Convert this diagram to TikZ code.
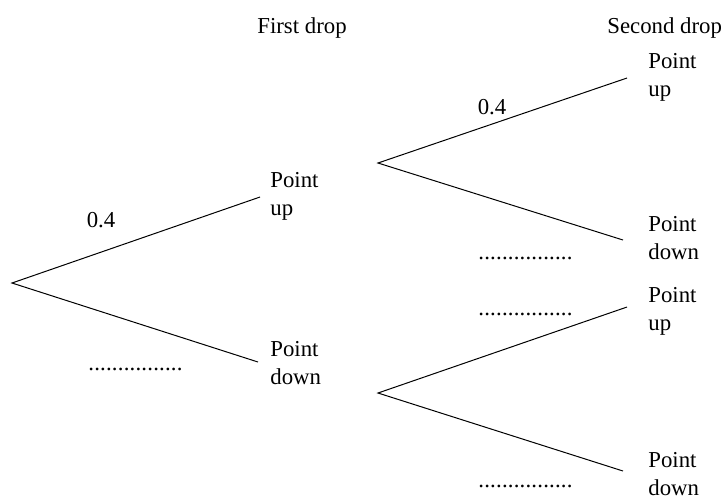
\documentclass[tikz,border=0pt]{standalone}
\usepackage{fontspec}
\setmainfont{Liberation Serif}
\newcommand\mydotrow{\foreach\i in {1,...,16}{.\kern0.1pt}}
\begin{document}
\begin{tikzpicture}[x=0.5pt,y=-0.5pt,
  branch/.style={draw=black,line width=0.5pt},
  lbl/.style={anchor=north west,inner sep=0pt,align=left,font=\fontsize{11.4}{14}\selectfont},
  txt/.style={inner sep=0pt,font=\fontsize{11.4}{14}\selectfont},
  blank/.style={anchor=base west,inner sep=0pt,font=\fontsize{11.4}{14}\selectfont}]
\useasboundingbox (0,0) rectangle (721,495);
% headers
\node[txt,anchor=base] (h1) at (302,33) {First drop};
\node[txt,anchor=base west] (h2) at (607,33) {Second drop};
% branch points
\coordinate (r) at (12,283);
\coordinate (a1) at (260,197);
\coordinate (a2) at (258,362);
\coordinate (b0) at (378,163);
\coordinate (b1) at (627,78);
\coordinate (b2) at (623,240);
\coordinate (c0) at (378,393);
\coordinate (c1) at (627,307);
\coordinate (c2) at (623,471);
% branches
\draw[branch] (a1) -- (r) -- (a2);
\draw[branch] (b1) -- (b0) -- (b2);
\draw[branch] (c1) -- (c0) -- (c2);
% labels
\node[lbl] (l1u) at (270,172) {Point\\up};
\node[lbl] (l1d) at (270,341) {Point\\down};
\node[lbl] (l2a) at (648,53) {Point\\up};
\node[lbl] (l2b) at (648,216) {Point\\down};
\node[lbl] (l2c) at (648,287) {Point\\up};
\node[lbl] (l2d) at (648,452) {Point\\down};
% probabilities
\node[txt,anchor=base] (p1) at (101,227) {0.4};
\node[txt,anchor=base] (p2) at (492,114) {0.4};
\node[blank] (d1) at (88,370) {\mydotrow};
\node[blank] (d2) at (478,259) {\mydotrow};
\node[blank] (d3) at (478,315) {\mydotrow};
\node[blank] (d4) at (478,487) {\mydotrow};
\end{tikzpicture}
\end{document}
